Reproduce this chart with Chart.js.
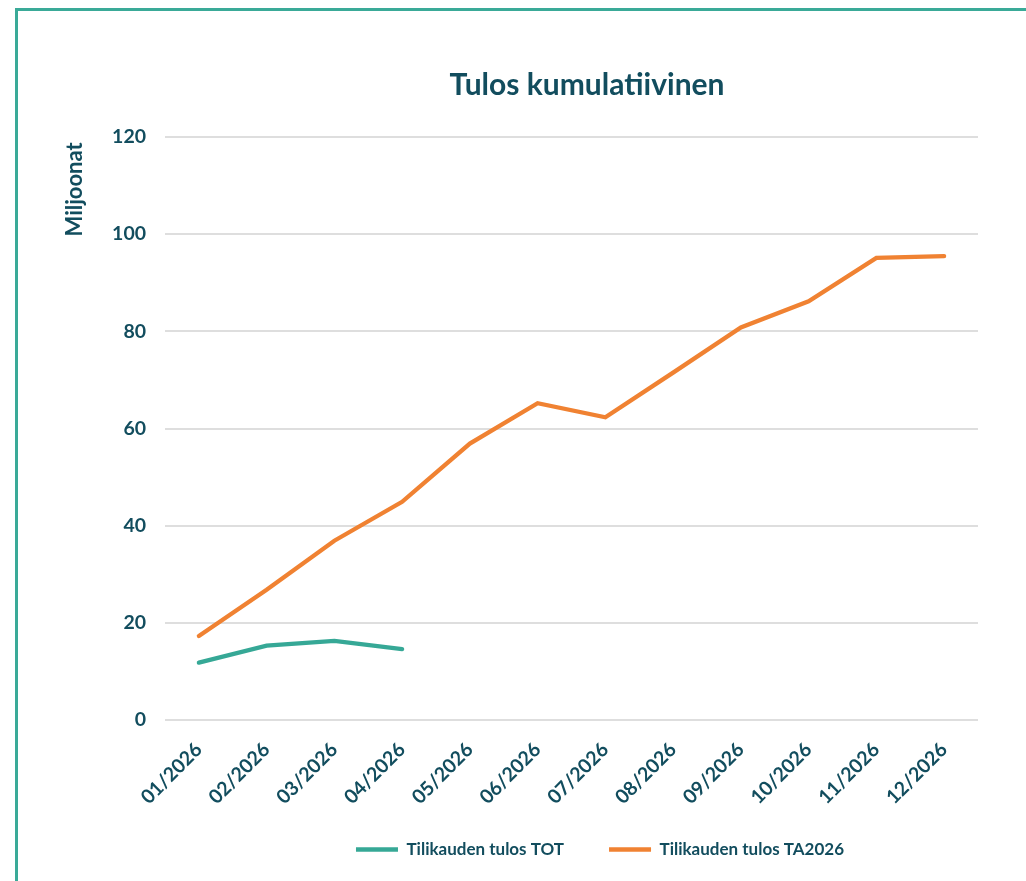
<!DOCTYPE html>
<html>
<head>
<meta charset="utf-8">
<script src="https://cdn.jsdelivr.net/npm/chart.js@4/dist/chart.umd.min.js"></script>
<style>
  html, body { margin: 0; padding: 0; background: #fff; overflow: hidden; }
  .frame {
    position: absolute; left: 15px; top: 8px;
    width: 1100px; height: 900px;
    border-left: 3px solid #3aaa98; border-top: 3px solid #3aaa98;
  }
  .box { position: relative; width: 1008px; height: 870px; }
</style>
</head>
<body>
<div class="frame"><div class="box"><canvas id="myChart"></canvas></div></div>
<script>
let months = ["01/2026", "02/2026", "03/2026", "04/2026", "05/2026", "06/2026",
  "07/2026", "08/2026", "09/2026", "10/2026", "11/2026", "12/2026"];
let tulosTOT = [11.8, 15.3, 16.3, 14.6];
let tulosTA2026 = [17.3, 26.8, 36.9, 44.9, 56.9, 65.2, 62.3, 71.5, 80.8, 86.2, 95.1, 95.5];
let seriesNames = ["Tilikauden tulos TOT", "Tilikauden tulos TA2026"];

let textColor = "#124d5e";
let fontFam = "Lato, 'Open Sans', sans-serif";

let ctx = document.getElementById("myChart");

// title and legend are not centred on the plot in the original, move them a bit
let shiftBlocks = {
  id: 'shiftBlocks',
  afterLayout: (chart) => {
    let move = (box, cx) => {
      let d = cx - (box.left + box.right) / 2;
      box.left += d;
      box.right += d;
    };
    move(chart.titleBlock, 569);
    move(chart.legend, 582);
    let dy = 785 - chart.legend.top;
    chart.legend.top += dy;
    chart.legend.bottom += dy;
  }
};

let myChart = new Chart(ctx, {
  type: 'line',
  data: {
    labels: months,
    datasets: [{
      label: seriesNames[0],
      data: tulosTOT,
      borderColor: '#36a896',
      backgroundColor: '#36a896',
      borderWidth: 4.3,
      borderCapStyle: 'round',
      pointRadius: 0,
      tension: 0
    }, {
      label: seriesNames[1],
      data: tulosTA2026,
      borderColor: '#f08232',
      backgroundColor: '#f08232',
      borderWidth: 4.3,
      borderCapStyle: 'round',
      pointRadius: 0,
      tension: 0
    }]
  },
  options: {
    responsive: true,
    maintainAspectRatio: false,
    animation: false,
    layout: { padding: { left: 40, right: 48, bottom: 0 } },
    plugins: {
      title: {
        display: true,
        text: 'Tulos kumulatiivinen',
        color: textColor,
        font: { family: fontFam, size: 30, weight: 'bold' },
        padding: { top: 56, bottom: 34 }
      },
      legend: {
        position: 'bottom',
        labels: {
          color: textColor,
          font: { family: fontFam, size: 17, weight: 'bold' },
          usePointStyle: true,
          pointStyle: 'line',
          pointStyleWidth: 42,
          padding: 45
        }
      },
      tooltip: { enabled: false }
    },
    scales: {
      x: {
        offset: true,
        grid: { display: false, drawTicks: false },
        border: { display: false },
        ticks: {
          color: textColor,
          font: { family: fontFam, size: 19.5, weight: 'bold' },
          minRotation: 45,
          maxRotation: 45,
          padding: 18
        },
        afterFit: (scale) => { scale.height = 89; }
      },
      y: {
        min: 0,
        max: 120,
        ticks: {
          stepSize: 20,
          color: textColor,
          font: { family: fontFam, size: 19.5, weight: 'bold' },
          padding: 19
        },
        grid: { color: '#dedede', lineWidth: 2, drawTicks: false },
        border: { display: false },
        title: {
          display: true,
          text: 'Miljoonat ',
          align: 'end',
          color: textColor,
          font: { family: fontFam, size: 22, weight: 'bold' }
        },
        afterFit: (scale) => { scale.width = 107; }
      }
    }
  },
  plugins: [shiftBlocks]
});
</script>
</body>
</html>
